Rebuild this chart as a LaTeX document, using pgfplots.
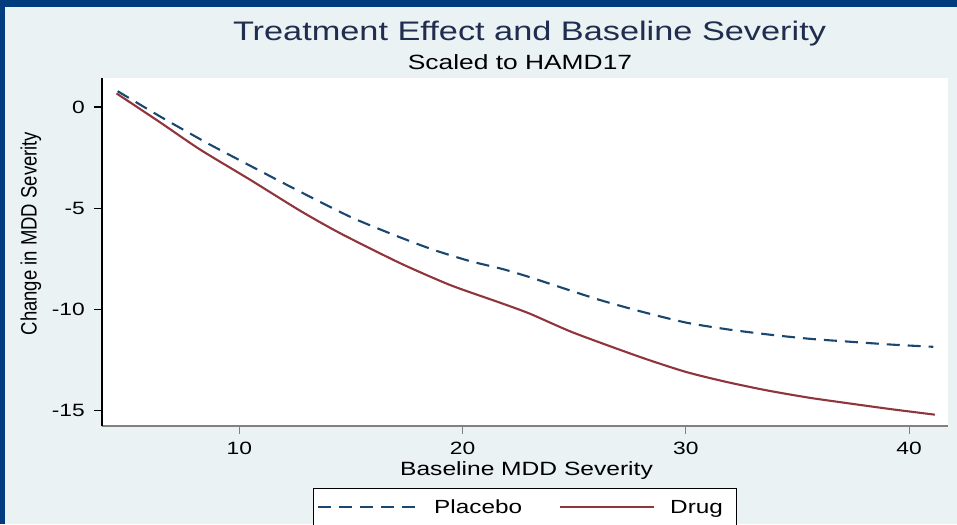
\documentclass[border=0pt]{standalone}
\usepackage{fontspec}
\setmainfont{Liberation Sans}[FakeStretch=1.28]
\newfontfamily\plainsans{Liberation Sans}
\usepackage{graphicx}
\usepackage{pgfplots}
\pgfplotsset{compat=1.18}

\definecolor{framenavy}{HTML}{003C7E}
\definecolor{bgblue}{HTML}{EAF2F3}
\definecolor{titlenavy}{HTML}{1F2D4F}
\definecolor{placebo}{HTML}{1A476F}
\definecolor{drug}{HTML}{90353B}

\pgfplotsset{
  placeboimg/.style={legend image code/.code={\draw[##1] (0pt,0pt) -- (100pt,0pt);}},
  drugimg/.style={legend image code/.code={\draw[##1] (0pt,0pt) -- (94pt,0pt);}},
}

% fitted curves (baseline severity, change)
\pgfplotstableread{
x y
4.55 0.78
6.5 -0.50
8.54 -1.77
10.0 -2.62
11.82 -3.67
13.5 -4.62
15.1 -5.49
17.0 -6.35
18.69 -7.05
20.3 -7.60
21.82 -8.01
23.0 -8.40
24.6 -8.98
26.15 -9.53
28.0 -10.10
30.03 -10.65
32.0 -11.00
33.91 -11.26
35.6 -11.45
37.35 -11.59
39.2 -11.73
41.08 -11.84
}\placebodata

\pgfplotstableread{
x y
4.50 0.67
6.4 -0.72
8.24 -2.10
10.48 -3.59
12.72 -5.12
14.51 -6.23
17.2 -7.71
19.44 -8.79
21.67 -9.66
23.0 -10.20
24.96 -11.14
27.94 -12.34
30.0 -13.08
31.8 -13.57
33.62 -13.99
35.5 -14.35
37.35 -14.64
39.2 -14.92
41.15 -15.19
}\drugdata

\begin{document}
\begin{tikzpicture}[x=1pt,y=1pt]
\useasboundingbox (0,0) rectangle (957,-524);
\clip (0,0) rectangle (957,-524);
\fill[framenavy] (0,0) rectangle (957,-524);
\fill[bgblue] (5,-7.5) rectangle (957,-524);

\node[anchor=base, inner sep=0, text=titlenavy, font=\fontsize{26.8}{30}\selectfont]
  at (529.5,-41) {Treatment Effect and Baseline Severity};
\node[anchor=base, inner sep=0, font=\fontsize{20.6}{24}\selectfont]
  at (520,-69.5) {Scaled to HAMD17};
\node[anchor=base, inner sep=0, rotate=90, font=\plainsans\fontsize{18.5}{22}\selectfont]
  at (36.5,-233.5) {\scalebox{1}[1.2]{Change in MDD Severity}};
\node[anchor=base, inner sep=0, font=\fontsize{19.2}{22}\selectfont]
  at (526.5,-475) {Baseline MDD Severity};

\begin{axis}[
  at={(102pt,-426pt)}, anchor=south west,
  scale only axis, width=846pt, height=348pt,
  xmin=3.85, xmax=41.74, ymin=-15.75, ymax=1.43,
  axis x line*=bottom, axis y line*=left,
  axis background/.style={fill=white},
  x axis line style={draw=gray, line width=1.3pt},
  y axis line style={draw=black, line width=1.3pt},
  tick align=outside, major tick length=8pt,
  xtick={10,20,30,40}, xticklabels={10,20,30,40},
  ytick={0,-5,-10,-15}, yticklabels={0,-5,-10,-15},
  x tick style={draw=gray, line width=1.2pt},
  y tick style={draw=black, line width=1.2pt},
  tick label style={font=\fontsize{17.8}{20}\selectfont},
  yticklabel style={inner sep=0pt, anchor=east, xshift=-9pt},
  xticklabel style={inner sep=0pt, anchor=north, yshift=-8pt},
  legend columns=-1,
  legend style={at={(0.5,-0.179)}, anchor=north, draw=black, line width=1pt,
    fill=white, font=\fontsize{19}{22}\selectfont,
    nodes={inner sep=0pt},
    inner xsep=4pt, inner ysep=11pt,
    /tikz/every odd column/.append style={column sep=15pt},
    /tikz/every even column/.append style={column sep=37pt}},
]
\addplot[placebo, line width=2.1pt, dash pattern=on 13pt off 8pt, smooth, tension=0.4, placeboimg]
  table[x=x, y=y] {\placebodata};
\addlegendentry{Placebo}
\addplot[drug, line width=2.1pt, smooth, tension=0.4, drugimg]
  table[x=x, y=y] {\drugdata};
\addlegendentry{Drug\hspace*{10pt}}
\end{axis}
\end{tikzpicture}
\end{document}
